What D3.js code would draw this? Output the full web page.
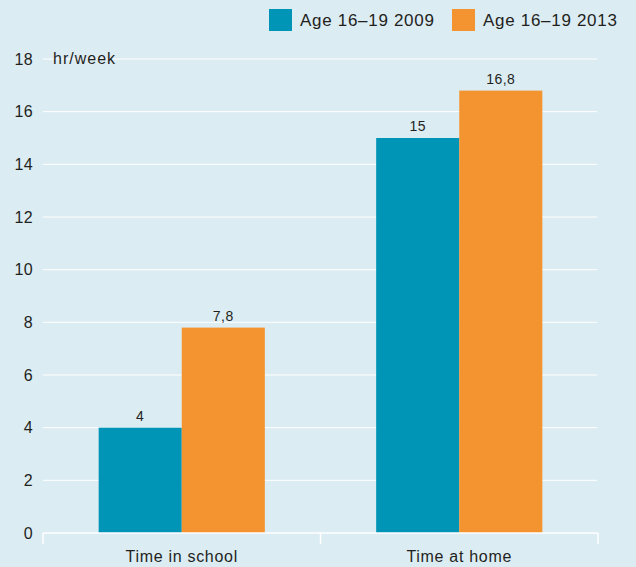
<!DOCTYPE html>
<html><head><meta charset="utf-8">
<script src="https://cdn.jsdelivr.net/npm/d3@7"></script>
<style>body{margin:0;background:#dcecf3}svg{display:block}text{font-family:"Liberation Sans",Arial,sans-serif;fill:#231f1c}</style>
</head><body>
<script>
const categories = ["Time in school", "Time at home"];
const seriesNames = ["Age 16\u201319 2009", "Age 16\u201319 2013"];
const values2009 = [4, 15];
const values2013 = [7.8, 16.8];
const yTicks = [0, 2, 4, 6, 8, 10, 12, 14, 16, 18];
const colors = ["#0094b6", "#f39430"];

const W = 636, H = 567;
const svg = d3.select("body").append("svg").attr("width", W).attr("height", H);
svg.append("rect").attr("width", W).attr("height", H).attr("fill", "#dcecf3");

const x = d3.scaleBand().domain(categories).range([43, 598]);
const y = d3.scaleLinear().domain([0, 18]).range([533, 59]);
const inner = d3.scaleBand().domain([0, 1]).range([0, x.bandwidth()]).paddingOuter(0.67);

// gridlines
svg.append("g").selectAll("line").data(yTicks.filter(d => d > 0)).join("line")
  .attr("x1", 43).attr("x2", 597).attr("y1", d => y(d)).attr("y2", d => y(d))
  .attr("stroke", "#fff").attr("stroke-width", 1);

// y labels
svg.append("g").selectAll("text").data(yTicks).join("text")
  .attr("x", 33).attr("y", d => y(d) + 5.5).attr("text-anchor", "end")
  .attr("font-size", 16).attr("letter-spacing", 0.4).text(d => d);

svg.append("text").attr("x", 53).attr("y", 64).attr("font-size", 16).attr("letter-spacing", 1).text("hr/week");

const series = [values2009, values2013];
series.forEach((vals, si) => {
  const g = svg.append("g");
  g.selectAll("rect").data(categories).join("rect")
    .attr("x", (c) => x(c) + inner(si)).attr("width", inner.bandwidth())
    .attr("y", (c, i) => y(vals[i])).attr("height", (c, i) => y(0) - y(vals[i]))
    .attr("fill", colors[si]);
  g.selectAll("text").data(categories).join("text")
    .attr("x", c => x(c) + inner(si) + inner.bandwidth() / 2)
    .attr("y", (c, i) => y(vals[i]) - 7).attr("text-anchor", "middle")
    .attr("font-size", 14).attr("letter-spacing", 0.5).text((c, i) => String(vals[i]).replace(".", ","));
});

// x axis
const xa = svg.append("g").attr("transform", "translate(0,533)");
xa.append("line").attr("x1", 43).attr("x2", 598).attr("stroke", "#fff").attr("stroke-width", 1.5);
const tickXs = [43].concat(categories.map(c => x(c) + x.bandwidth()));
xa.selectAll("line.t").data(tickXs).join("line").attr("class", "t")
  .attr("x1", d => d).attr("x2", d => d).attr("y1", 0).attr("y2", 11)
  .attr("stroke", "#fff").attr("stroke-width", 1.5);
xa.selectAll("text").data(categories).join("text")
  .attr("x", c => x(c) + x.bandwidth() / 2).attr("y", 29).attr("text-anchor", "middle")
  .attr("font-size", 16).attr("letter-spacing", 0.7).text(c => c);

// legend
const legX = [269, 452];
seriesNames.forEach((n, i) => {
  svg.append("rect").attr("x", legX[i]).attr("y", 9).attr("width", 23).attr("height", 22).attr("fill", colors[i]);
  svg.append("text").attr("x", legX[i] + 31).attr("y", 26).attr("font-size", 17).attr("letter-spacing", 0.7).text(n);
});
</script>
</body></html>
